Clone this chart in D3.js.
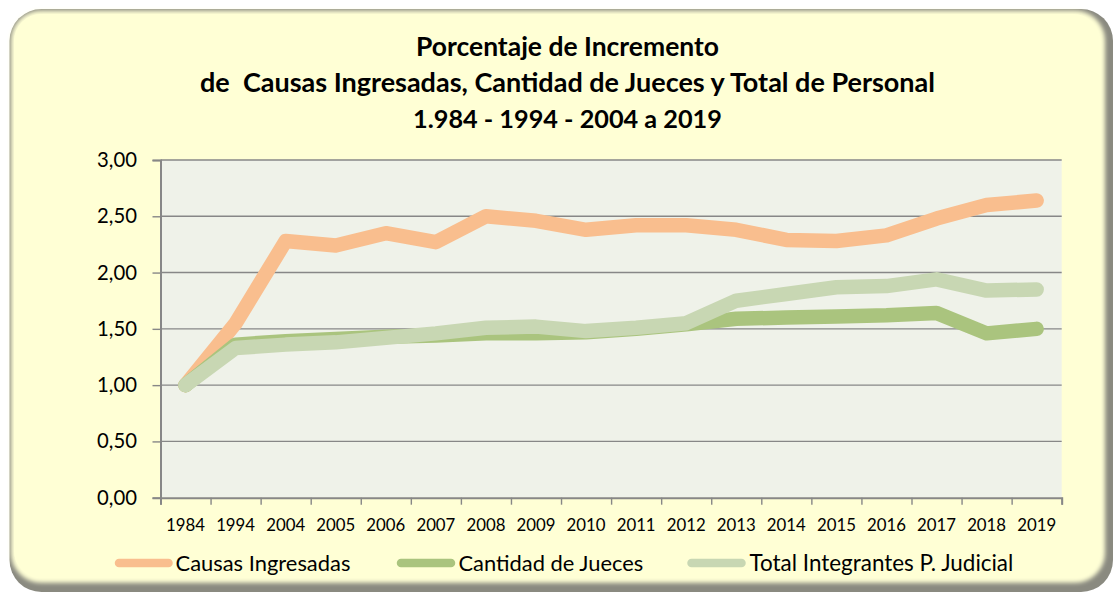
<!DOCTYPE html>
<html>
<head>
<meta charset="utf-8">
<script src="https://cdn.jsdelivr.net/npm/d3@7"></script>
<style>
  html, body { margin: 0; padding: 0; background: #ffffff; }
  svg { display: block; }
  text { font-family: Lato, "Open Sans", sans-serif; }
</style>
</head>
<body>
<svg id="chart" width="1115" height="595"></svg>
<script>
// ---- data ----
const categories = ["1984","1994","2004","2005","2006","2007","2008","2009","2010","2011","2012","2013","2014","2015","2016","2017","2018","2019"];
const causasIngresadas = [1.00, 1.55, 2.28, 2.24, 2.35, 2.27, 2.50, 2.46, 2.38, 2.42, 2.42, 2.38, 2.29, 2.28, 2.33, 2.48, 2.60, 2.64];
const cantidadJueces   = [1.00, 1.36, 1.39, 1.41, 1.43, 1.44, 1.46, 1.46, 1.47, 1.50, 1.54, 1.59, 1.60, 1.61, 1.62, 1.64, 1.46, 1.50];
const totalIntegrantes = [1.00, 1.33, 1.36, 1.38, 1.42, 1.46, 1.51, 1.52, 1.48, 1.51, 1.55, 1.75, 1.81, 1.87, 1.88, 1.94, 1.84, 1.85];
const seriesNames = ["Causas Ingresadas", "Cantidad de Jueces", "Total Integrantes P. Judicial"];
const yTickValues = [0, 0.5, 1, 1.5, 2, 2.5, 3];
const titleLines = ["Porcentaje de Incremento", "de  Causas Ingresadas, Cantidad de Jueces y Total de Personal", "1.984 - 1994 - 2004 a 2019"];

(function () {
// ---- styles ----
const colors = ["#F9BE8E", "#AAC47E", "#C8D7B3"];
const seriesData = [causasIngresadas, cantidadJueces, totalIntegrantes];

const svg = d3.select("#chart");
const defs = svg.append("defs");
const blur = defs.append("filter").attr("id", "soft").attr("x", "-5%").attr("y", "-5%").attr("width", "110%").attr("height", "110%");
blur.append("feGaussianBlur").attr("stdDeviation", 2.2);

// frame
svg.append("rect").attr("x", 9.5).attr("y", 9).attr("width", 1103.5).attr("height", 583)
  .attr("rx", 32).attr("fill", "#8a8a80");
svg.append("rect").attr("x", 11).attr("y", 10.8).attr("width", 1094).attr("height", 572)
  .attr("rx", 30).attr("fill", "#FFFFD5").attr("filter", "url(#soft)");
svg.append("rect").attr("x", 14).attr("y", 14).attr("width", 1086).attr("height", 564)
  .attr("rx", 27).attr("fill", "#FFFFD5");

// plot geometry
const pLeft = 160.5, pRight = 1061.7, pTop = 160, pBottom = 497.7;

svg.append("rect").attr("x", pLeft).attr("y", pTop).attr("width", pRight - pLeft).attr("height", pBottom - pTop)
  .attr("fill", "#EFF2E9");

const x = d3.scaleBand().domain(categories).range([pLeft, pRight]).padding(0);
const xc = d => x(d) + x.bandwidth() / 2;
const y = d3.scaleLinear().domain([0, 3]).range([pBottom, pTop]);

// gridlines
svg.append("g").selectAll("line").data(yTickValues.filter(v => v > 0)).join("line")
  .attr("x1", pLeft).attr("x2", pRight)
  .attr("y1", d => y(d)).attr("y2", d => y(d))
  .attr("stroke", "#878787").attr("stroke-width", 1.4);

// y axis
const yAxis = svg.append("g").attr("transform", `translate(${pLeft},0)`)
  .call(d3.axisLeft(y).tickValues(yTickValues).tickSize(8).tickPadding(15.5)
    .tickFormat(d => d3.format(".2f")(d).replace(".", ",")));
yAxis.select(".domain").attr("stroke", "#878787").attr("stroke-width", 2);
yAxis.selectAll(".tick line").attr("stroke", "#878787").attr("stroke-width", 1.4);
yAxis.selectAll("text").attr("fill", "#000").style("font-size", "20.3px").style("font-family", "Lato");

// x axis: boundary ticks
const xb = d3.scaleLinear().domain([0, categories.length]).range([pLeft, pRight]);
const xTicks = svg.append("g").attr("transform", `translate(0,${pBottom})`)
  .call(d3.axisBottom(xb).tickValues(d3.range(categories.length + 1)).tickSize(7).tickFormat(""));
xTicks.select(".domain").attr("stroke", "#878787").attr("stroke-width", 2);
xTicks.selectAll(".tick line").attr("stroke", "#878787").attr("stroke-width", 1.4);

// x axis labels
const xLab = svg.append("g").attr("transform", `translate(0,${pBottom})`)
  .call(d3.axisBottom(x).tickSize(0));
xLab.select(".domain").remove();
xLab.selectAll("text").attr("y", 33.8).attr("dy", 0).attr("fill", "#000")
  .style("font-size", "16.8px").style("font-family", "Lato");

// lines
const line = d3.line().x((d, i) => xc(categories[i])).y(d => y(d));
svg.append("g").selectAll("path").data(seriesData).join("path")
  .attr("d", d => line(d))
  .attr("fill", "none")
  .attr("stroke", (d, i) => colors[i])
  .attr("stroke-width", 14.5)
  .attr("stroke-linecap", "round")
  .attr("stroke-linejoin", "round");

// fit helper
function fit(sel, target) {
  sel.each(function () {
    const node = this;
    let fs = parseFloat(node.style.fontSize);
    const w = node.getComputedTextLength();
    if (w > 0) node.style.fontSize = (fs * target / w) + "px";
  });
}

// title
const titleBase = [56, 92, 128];
const titleWidths = [303, 735, 309];
titleLines.forEach((t, i) => {
  const tt = svg.append("text").attr("x", 567.5).attr("y", titleBase[i]).attr("text-anchor", "middle")
    .style("font-size", "21px").style("font-weight", "bold").style("white-space", "pre")
    .attr("fill", "#000").text(t);
  fit(tt, titleWidths[i]);
});

// legend
const legendSample = [[115, 172.5], [397, 455], [687.5, 745.5]];
const legendText = [175.5, 458.5, 749.5];
const legendWidth = [175, 185, 264];
const lg = svg.append("g");
seriesNames.forEach((name, i) => {
  lg.append("line").attr("x1", legendSample[i][0] + 4).attr("x2", legendSample[i][1] - 4)
    .attr("y1", 563).attr("y2", 563)
    .attr("stroke", colors[i]).attr("stroke-width", 8.5).attr("stroke-linecap", "round");
  const t = lg.append("text").attr("x", legendText[i]).attr("y", 570.5)
    .style("font-size", "20px").attr("fill", "#000").text(name);
  fit(t, legendWidth[i]);
});
})();
</script>
</body>
</html>
